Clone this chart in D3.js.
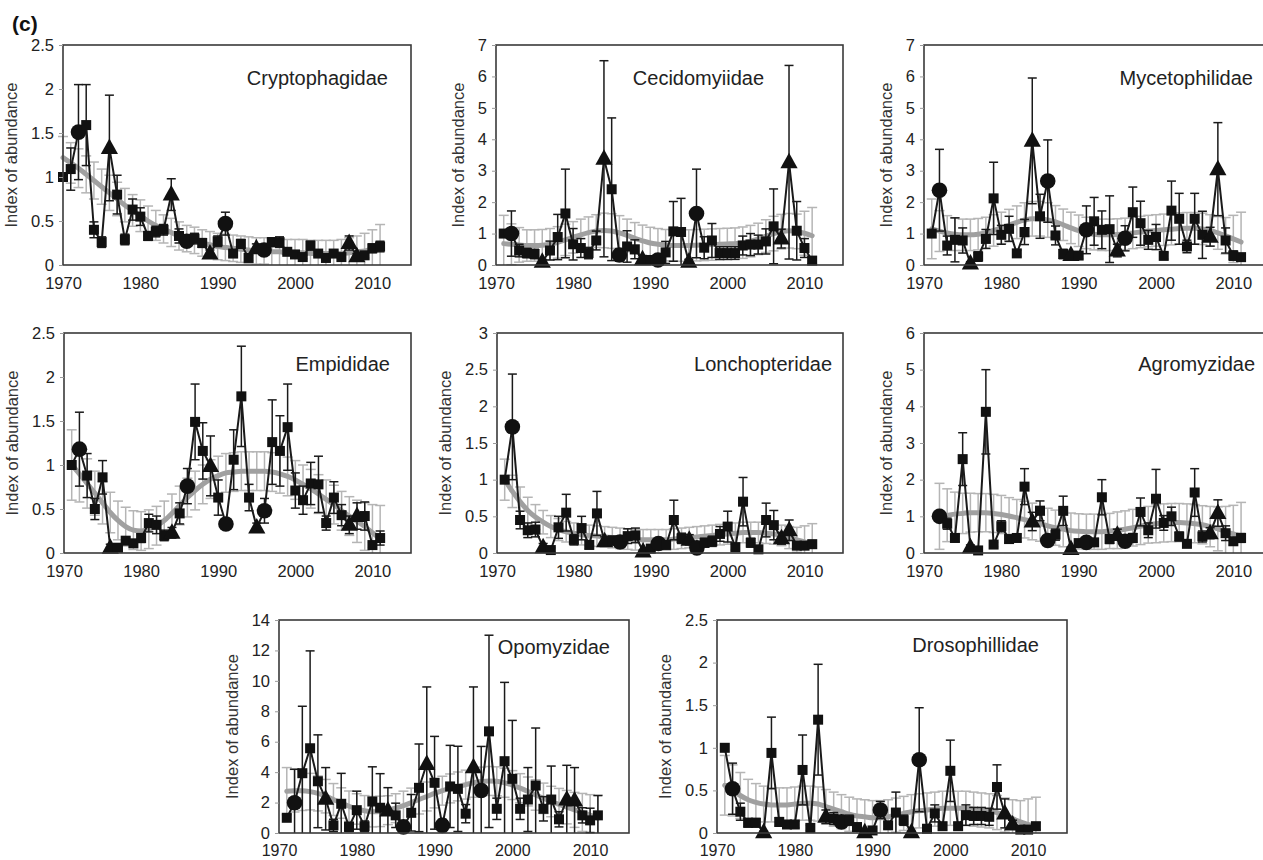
<!DOCTYPE html>
<html><head><meta charset="utf-8">
<script src="https://cdn.jsdelivr.net/npm/d3@7"></script>
<style>
body{margin:0;background:#fff;}
svg{display:block;}
text{font-family:"Liberation Sans",Arial,Helvetica,sans-serif;}
</style>
</head><body>
<svg id="chart" width="1263" height="860"></svg>
<script>
// ---------- shared data ----------
const circleYears = [1972, 1986, 1991, 1996];
const triangleYears = [1976, 1984, 1989, 1995, 2007, 2008];
const xTickYears = [1970, 1980, 1990, 2000, 2010];
const yAxisTitle = "Index of abundance";
const figureLabel = "(c)";

// ---------- Cryptophagidae (1970-2011) ----------
const crypStart = 1970;
const crypValues = [1.00,1.09,1.51,1.59,0.40,0.26,1.33,0.80,0.29,0.63, 0.55,0.33,0.38,0.40,0.80,0.33,0.27,0.30,0.25,0.13, 0.27,0.47,0.13,0.24,0.08,0.19,0.17,0.26,0.26,0.15, 0.12,0.09,0.22,0.13,0.08,0.13,0.09,0.25,0.10,0.11, 0.19,0.21];
const crypErr = [0,0.24,0.54,0.46,0.09,0.06,0.60,0.22,0.06,0.12, 0.10,0.05,0.06,0.06,0.18,0.08,0.05,0.06,0.05,0.04, 0.06,0.13,0.03,0.05,0.03,0.05,0.04,0.05,0.06,0.03, 0.03,0.02,0.05,0.03,0.02,0.03,0.02,0.08,0.03,0.03, 0.05,0.06];
const crypTrend = [1.22,1.16,1.10,1.03,0.96,0.89,0.82,0.75,0.68,0.62, 0.56,0.50,0.45,0.41,0.37,0.33,0.30,0.28,0.25,0.23, 0.21,0.20,0.19,0.18,0.17,0.16,0.16,0.15,0.15,0.14, 0.14,0.14,0.13,0.13,0.13,0.13,0.13,0.14,0.15,0.16, 0.18,0.20];
const crypCi = [0.24,0.23,0.22,0.21,0.21,0.20,0.20,0.19,0.19,0.18, 0.18,0.17,0.17,0.16,0.16,0.16,0.15,0.15,0.15,0.15, 0.15,0.15,0.15,0.15,0.15,0.15,0.15,0.15,0.15,0.15, 0.15,0.15,0.15,0.15,0.15,0.15,0.16,0.17,0.18,0.20, 0.22,0.26];

// ---------- Cecidomyiidae (1971-2011) ----------
const ceciStart = 1971;
const ceciValues = [1.00,1.00,0.46,0.38,0.35,0.10,0.46,0.89,1.64,0.66, 0.54,0.38,0.78,3.38,2.41,0.32,0.59,0.50,0.18,0.16, 0.16,0.40,1.07,1.05,0.10,1.64,0.55,0.78,0.38,0.38, 0.38,0.62,0.65,0.65,0.75,1.23,0.84,3.27,1.09,0.54, 0.14];
const ceciErr = [0,0.72,0.20,0.15,0.15,0.08,0.30,0.72,1.41,0.50, 0.30,0.18,0.30,3.12,2.27,0.20,0.50,0.30,0.12,0.10, 0.12,0.35,0.95,1.07,0.08,1.41,0.35,0.54,0.20,0.20, 0.20,0.30,0.35,0.30,0.40,1.19,0.30,3.08,0.93,0.30, 0.10];
const ceciTrend = [0.68,0.66,0.64,0.62,0.62,0.63,0.66,0.72,0.80,0.88, 0.96,1.03,1.08,1.10,1.08,1.02,0.94,0.85,0.77,0.70, 0.66,0.63,0.62,0.62,0.62,0.63,0.64,0.65,0.66,0.67, 0.68,0.71,0.76,0.83,0.92,1.00,1.06,1.09,1.07,1.01, 0.93];
const ceciCi = [0.90,0.65,0.55,0.50,0.50,0.50,0.50,0.50,0.50,0.50, 0.50,0.50,0.52,0.55,0.55,0.55,0.52,0.50,0.50,0.50, 0.50,0.50,0.50,0.50,0.50,0.50,0.50,0.50,0.50,0.50, 0.50,0.50,0.50,0.50,0.52,0.55,0.55,0.55,0.55,0.70, 0.90];

// ---------- Mycetophilidae (1971-2011) ----------
const myceStart = 1971;
const myceValues = [1.00,2.38,0.62,0.80,0.78,0.05,0.27,0.83,2.12,0.96, 1.15,0.37,1.05,3.95,1.55,2.67,0.94,0.35,0.32,0.30, 1.12,1.39,1.12,1.14,0.46,0.85,1.68,1.33,0.80,0.89, 0.29,1.73,1.47,0.59,1.47,0.96,0.90,3.05,0.78,0.30, 0.25];
const myceErr = [0,1.30,0.30,0.70,0.40,0.05,0.15,0.30,1.15,0.30, 0.40,0.10,0.40,2.00,0.70,1.31,0.30,0.15,0.10,0.10, 0.76,0.76,0.60,1.06,0.20,0.40,0.80,0.70,0.30,0.40, 0.10,0.94,0.81,0.20,0.81,0.75,0.30,1.48,0.40,0.15, 0.10];
const myceTrend = [1.15,1.08,1.02,0.98,0.96,0.96,0.98,1.02,1.10,1.18, 1.27,1.36,1.43,1.47,1.47,1.43,1.37,1.28,1.18,1.09, 1.02,0.98,0.96,0.96,0.97,0.99,1.02,1.05,1.08,1.10, 1.12,1.14,1.16,1.17,1.17,1.15,1.10,1.02,0.93,0.83, 0.73];
const myceCi = [0.95,0.65,0.55,0.52,0.50,0.50,0.50,0.50,0.50,0.50, 0.50,0.52,0.55,0.55,0.55,0.55,0.52,0.50,0.50,0.50, 0.50,0.50,0.50,0.50,0.50,0.50,0.50,0.50,0.50,0.50, 0.50,0.50,0.50,0.50,0.50,0.50,0.50,0.52,0.58,0.75, 0.95];

// ---------- Empididae (1971-2011) ----------
const empiStart = 1971;
const empiValues = [1.00,1.18,0.88,0.50,0.86,0.06,0.06,0.14,0.11,0.17, 0.34,0.32,0.20,0.23,0.45,0.76,1.49,1.16,0.99,0.63, 0.33,1.06,1.78,0.63,0.29,0.48,1.26,1.16,1.43,0.71, 0.60,0.79,0.78,0.34,0.63,0.43,0.32,0.42,0.42,0.09, 0.17];
const empiErr = [0,0.42,0.25,0.12,0.19,0.04,0.04,0.04,0.04,0.05, 0.10,0.10,0.06,0.06,0.12,0.20,0.43,0.32,0.34,0.20, 0.06,0.34,0.57,0.15,0.05,0.14,0.48,0.40,0.49,0.20, 0.16,0.24,0.32,0.08,0.18,0.12,0.10,0.15,0.16,0.03, 0.08];
const empiTrend = [1.00,0.90,0.79,0.68,0.57,0.46,0.37,0.30,0.26,0.25, 0.27,0.31,0.37,0.45,0.54,0.63,0.71,0.78,0.84,0.88, 0.91,0.92,0.93,0.93,0.93,0.93,0.92,0.90,0.87,0.83, 0.78,0.73,0.67,0.61,0.55,0.48,0.42,0.36,0.30,0.23, 0.16];
const empiCi = [0.40,0.32,0.28,0.25,0.24,0.23,0.22,0.22,0.22,0.22, 0.22,0.22,0.22,0.22,0.22,0.22,0.22,0.22,0.22,0.22, 0.22,0.22,0.22,0.22,0.22,0.22,0.22,0.22,0.22,0.22, 0.22,0.22,0.22,0.22,0.22,0.22,0.22,0.24,0.27,0.32, 0.38];

// ---------- Lonchopteridae (1971-2011) ----------
const loncStart = 1971;
const loncValues = [1.00,1.72,0.45,0.31,0.32,0.08,0.04,0.35,0.55,0.18, 0.34,0.11,0.54,0.16,0.17,0.15,0.23,0.24,0.02,0.06, 0.13,0.11,0.45,0.20,0.18,0.07,0.14,0.16,0.26,0.36, 0.08,0.70,0.14,0.05,0.45,0.38,0.20,0.31,0.10,0.10, 0.12];
const loncErr = [0,0.72,0.12,0.10,0.10,0.05,0.03,0.15,0.25,0.07, 0.16,0.05,0.30,0.06,0.06,0.06,0.10,0.10,0.02,0.03, 0.05,0.05,0.27,0.07,0.07,0.04,0.06,0.07,0.10,0.21, 0.04,0.33,0.06,0.03,0.23,0.20,0.08,0.14,0.04,0.04, 0.05];
const loncTrend = [1.00,0.84,0.70,0.58,0.49,0.42,0.36,0.32,0.29,0.27, 0.25,0.24,0.23,0.22,0.21,0.20,0.19,0.18,0.18,0.18, 0.18,0.18,0.19,0.20,0.21,0.22,0.23,0.24,0.25,0.26, 0.27,0.28,0.28,0.28,0.27,0.26,0.24,0.21,0.18,0.15, 0.12];
const loncCi = [0.28,0.22,0.20,0.18,0.17,0.16,0.15,0.15,0.14,0.14, 0.14,0.14,0.14,0.14,0.14,0.14,0.14,0.14,0.14,0.14, 0.14,0.14,0.14,0.14,0.14,0.14,0.14,0.14,0.14,0.14, 0.14,0.14,0.14,0.14,0.14,0.14,0.14,0.15,0.17,0.22, 0.28];

// ---------- Agromyzidae (1972-2011) ----------
const agroStart = 1972;
const agroValues = [1.00,0.80,0.41,2.56,0.16,0.07,3.85,0.23,0.73,0.38, 0.41,1.81,0.86,1.15,0.34,0.50,1.15,0.11,0.27,0.29, 0.29,1.52,0.38,0.50,0.32,0.41,1.12,0.62,1.48,0.82, 1.00,0.45,0.25,1.65,0.45,0.54,1.09,0.54,0.32,0.41];
const agroErr = [0,0.15,0.10,0.72,0.06,0.04,1.15,0.06,0.15,0.10, 0.10,0.49,0.25,0.27,0.10,0.15,0.40,0.05,0.08,0.08, 0.08,0.48,0.12,0.15,0.08,0.12,0.38,0.20,0.80,0.20, 0.25,0.12,0.08,0.65,0.15,0.15,0.36,0.20,0.10,0.12];
const agroTrend = [1.00,1.03,1.06,1.08,1.10,1.10,1.10,1.08,1.05,1.01, 0.96,0.91,0.86,0.80,0.74,0.69,0.65,0.61,0.59,0.58, 0.58,0.58,0.60,0.62,0.65,0.69,0.73,0.77,0.80,0.82, 0.83,0.83,0.82,0.80,0.77,0.72,0.66,0.59,0.52,0.46];
const agroCi = [0.90,0.72,0.60,0.55,0.53,0.52,0.52,0.52,0.52,0.50, 0.50,0.50,0.50,0.48,0.48,0.48,0.48,0.48,0.48,0.48, 0.48,0.48,0.48,0.50,0.50,0.50,0.50,0.50,0.52,0.52, 0.52,0.52,0.52,0.52,0.52,0.55,0.60,0.68,0.78,0.92];

// ---------- Opomyzidae (1971-2011) ----------
const opomStart = 1971;
const opomValues = [1.00,1.99,3.93,5.57,3.40,2.25,0.50,1.92,0.40,1.50, 0.44,2.07,1.66,1.48,1.16,0.40,1.33,2.97,4.54,3.30, 0.50,3.06,2.90,1.27,4.32,2.79,6.68,1.59,4.72,3.56, 1.59,2.20,3.12,1.59,2.20,0.90,2.20,2.14,1.16,0.83, 1.16];
const opomErr = [0,2.20,4.40,6.40,3.05,2.05,0.40,2.00,0.30,1.25, 0.35,2.28,2.24,1.50,0.80,0.30,1.20,2.88,5.06,3.05, 0.40,2.70,2.80,0.60,5.28,2.90,6.32,0.70,5.18,3.84, 0.70,2.10,3.78,0.80,2.20,0.50,2.25,2.16,0.50,0.80, 1.30];
const opomTrend = [2.75,2.78,2.78,2.72,2.60,2.42,2.20,1.97,1.76,1.58, 1.46,1.40,1.42,1.50,1.63,1.80,2.00,2.20,2.40,2.60, 2.78,2.93,3.06,3.18,3.30,3.38,3.42,3.40,3.30,3.15, 2.95,2.73,2.50,2.28,2.07,1.88,1.70,1.52,1.35,1.17, 0.98];
const opomCi = [1.55,1.40,1.30,1.20,1.15,1.10,1.05,1.00,1.00,1.00, 1.00,1.00,1.00,0.95,0.95,0.95,0.95,0.95,0.95,0.95, 0.95,0.95,0.95,0.95,0.95,0.95,0.95,0.95,0.95,0.95, 0.95,0.95,1.00,1.00,1.00,1.05,1.10,1.15,1.25,1.35, 1.50];

// ---------- Drosophillidae (1971-2011) ----------
const drosStart = 1971;
const drosValues = [1.00,0.52,0.25,0.12,0.12,0.01,0.94,0.13,0.10,0.10, 0.74,0.06,1.33,0.19,0.17,0.13,0.15,0.07,0.01,0.03, 0.27,0.09,0.24,0.15,0.01,0.86,0.05,0.23,0.08,0.73, 0.08,0.21,0.20,0.20,0.19,0.54,0.23,0.10,0.04,0.04, 0.08];
const drosErr = [0,0.30,0.10,0.05,0.05,0.01,0.42,0.05,0.04,0.04, 0.41,0.03,0.65,0.08,0.07,0.05,0.06,0.03,0.01,0.02, 0.10,0.04,0.24,0.06,0.01,0.61,0.02,0.10,0.04,0.36, 0.04,0.12,0.10,0.10,0.10,0.26,0.17,0.05,0.02,0.02, 0.04];
const drosTrend = [0.56,0.50,0.44,0.39,0.36,0.34,0.33,0.33,0.33,0.34, 0.35,0.35,0.34,0.31,0.28,0.25,0.22,0.20,0.19,0.18, 0.18,0.19,0.21,0.23,0.25,0.26,0.27,0.28,0.29,0.29, 0.29,0.29,0.28,0.27,0.26,0.24,0.21,0.17,0.13,0.10, 0.07];
const drosCi = [0.35,0.30,0.27,0.24,0.22,0.21,0.20,0.20,0.20,0.20, 0.20,0.20,0.20,0.20,0.20,0.20,0.20,0.20,0.20,0.20, 0.20,0.20,0.20,0.20,0.20,0.20,0.20,0.20,0.20,0.20, 0.20,0.20,0.20,0.20,0.20,0.20,0.20,0.22,0.25,0.30, 0.35];

// ---------- panel table built from the arrays ----------
const panels = [
  {name:"Cryptophagidae", start:crypStart, values:crypValues, err:crypErr, trend:crypTrend, ci:crypCi, yMax:2.5, yStep:0.5},
  {name:"Cecidomyiidae",  start:ceciStart, values:ceciValues, err:ceciErr, trend:ceciTrend, ci:ceciCi, yMax:7,   yStep:1},
  {name:"Mycetophilidae", start:myceStart, values:myceValues, err:myceErr, trend:myceTrend, ci:myceCi, yMax:7,   yStep:1},
  {name:"Empididae",      start:empiStart, values:empiValues, err:empiErr, trend:empiTrend, ci:empiCi, yMax:2.5, yStep:0.5},
  {name:"Lonchopteridae", start:loncStart, values:loncValues, err:loncErr, trend:loncTrend, ci:loncCi, yMax:3,   yStep:0.5},
  {name:"Agromyzidae",    start:agroStart, values:agroValues, err:agroErr, trend:agroTrend, ci:agroCi, yMax:6,   yStep:1},
  {name:"Opomyzidae",     start:opomStart, values:opomValues, err:opomErr, trend:opomTrend, ci:opomCi, yMax:14,  yStep:2},
  {name:"Drosophillidae", start:drosStart, values:drosValues, err:drosErr, trend:drosTrend, ci:drosCi, yMax:2.5, yStep:0.5}
];

// ---------- layout (positions / sizes only) ----------
const layout = [
  {left:63,  top:45,  width:348, height:220, titleEnd:388,  titleY:85,  xPad:12,   xFont:16.5},
  {left:496, top:45,  width:347, height:220, titleEnd:764,  titleY:85,  xPad:12,   xFont:16.5},
  {left:924, top:45,  width:348, height:220, titleEnd:1253, titleY:85,  xPad:12,   xFont:16.5},
  {left:64,  top:333, width:347, height:220, titleEnd:390,  titleY:371, xPad:12,   xFont:16.5},
  {left:497, top:333, width:346, height:220, titleEnd:832,  titleY:371, xPad:12,   xFont:16.5},
  {left:924, top:333, width:348, height:220, titleEnd:1255, titleY:371, xPad:12,   xFont:16.5},
  {left:279, top:620, width:350, height:213, titleEnd:610,  titleY:654, xPad:11.6, xFont:16},
  {left:717, top:620, width:350, height:213, titleEnd:1039, titleY:652, xPad:11.6, xFont:16}
];
const xDomain = [1970, 2015];

const svg = d3.select("#chart");
svg.append("rect").attr("width",1263).attr("height",860).attr("fill","#fff");

svg.append("text").attr("x",12).attr("y",31)
  .attr("font-size",21).attr("font-weight","bold").attr("fill","#111")
  .text(figureLabel);

const fmt = v => String(+v.toFixed(1));

panels.forEach((p, i) => {
  const L = layout[i];
  const g = svg.append("g");
  const x = d3.scaleLinear().domain(xDomain).range([L.left, L.left + L.width]);
  const y = d3.scaleLinear().domain([0, p.yMax]).range([L.top + L.height, L.top]);

  const pts = p.values.map((v, k) => ({year: p.start + k, v, e: p.err[k] || 0}));
  const tr = p.trend.map((t, k) => ({year: p.start + k, t, c: p.ci[k] || 0}));

  const cid = "clip" + i;
  svg.append("clipPath").attr("id", cid).append("rect")
    .attr("x", L.left - 10).attr("y", L.top - 2).attr("width", L.width + 20).attr("height", L.height + 4);
  const plot = g.append("g").attr("clip-path", `url(#${cid})`);

  // grey confidence bars
  const capG = 5, capB = 4.5;
  const ciG = plot.append("g").attr("stroke", "#b5b5b5").attr("stroke-width", 1.5).attr("fill", "none");
  tr.forEach(d => {
    const lo = Math.max(0, d.t - d.c), hi = d.t + d.c;
    const xx = x(d.year);
    ciG.append("line").attr("x1", xx).attr("x2", xx).attr("y1", y(lo)).attr("y2", y(hi));
    ciG.append("line").attr("x1", xx - capG).attr("x2", xx + capG).attr("y1", y(hi)).attr("y2", y(hi));
    if (d.t - d.c > 0) ciG.append("line").attr("x1", xx - capG).attr("x2", xx + capG).attr("y1", y(lo)).attr("y2", y(lo));
  });

  // grey trend line
  plot.append("path").datum(tr)
    .attr("fill", "none").attr("stroke", "#a0a0a0").attr("stroke-width", 5)
    .attr("stroke-linejoin", "round").attr("stroke-linecap", "round")
    .attr("d", d3.line().curve(d3.curveMonotoneX).x(d => x(d.year)).y(d => y(d.t)));

  // black error bars
  const eb = plot.append("g").attr("stroke", "#1a1a1a").attr("stroke-width", 1.5);
  pts.forEach(d => {
    if (!d.e) return;
    const lo = Math.max(0, d.v - d.e), hi = d.v + d.e;
    const xx = x(d.year);
    eb.append("line").attr("x1", xx).attr("x2", xx).attr("y1", y(lo)).attr("y2", y(hi));
    eb.append("line").attr("x1", xx - capB).attr("x2", xx + capB).attr("y1", y(hi)).attr("y2", y(hi));
    if (d.v - d.e > 0) eb.append("line").attr("x1", xx - capB).attr("x2", xx + capB).attr("y1", y(lo)).attr("y2", y(lo));
  });

  // black connecting line
  plot.append("path").datum(pts)
    .attr("fill", "none").attr("stroke", "#1a1a1a").attr("stroke-width", 2)
    .attr("stroke-linejoin", "miter")
    .attr("d", d3.line().x(d => x(d.year)).y(d => y(d.v)));

  // markers
  const mk = g.append("g").attr("fill", "#111");
  pts.forEach(d => {
    const xx = x(d.year), yy = y(d.v);
    if (circleYears.includes(d.year)) {
      mk.append("circle").attr("cx", xx).attr("cy", yy).attr("r", 7.8);
    } else if (triangleYears.includes(d.year)) {
      mk.append("path").attr("transform", `translate(${xx},${yy})`)
        .attr("d", "M0,-9.5L8.6,6L-8.6,6Z");
    } else {
      mk.append("rect").attr("x", xx - 5).attr("y", yy - 5).attr("width", 10).attr("height", 10);
    }
  });

  // frame
  g.append("rect").attr("x", L.left).attr("y", L.top).attr("width", L.width).attr("height", L.height)
    .attr("fill", "none").attr("stroke", "#3a3a3a").attr("stroke-width", 1.6);

  // axes
  const yTicks = d3.range(0, p.yMax + 1e-9, p.yStep);
  const yAx = g.append("g").attr("transform", `translate(${L.left},0)`)
    .call(d3.axisLeft(y).tickValues(yTicks).tickFormat(fmt).tickSize(4).tickPadding(5));
  yAx.select(".domain").remove();
  yAx.selectAll("line").attr("stroke", "#9a9a9a");
  yAx.selectAll("text").attr("font-size", 16.5).attr("fill", "#222")
    .attr("font-family", '"Liberation Sans",Arial,sans-serif');

  const xAx = g.append("g").attr("transform", `translate(0,${L.top + L.height})`)
    .call(d3.axisBottom(x).tickValues(xTickYears).tickFormat(d3.format("d")).tickSize(0).tickPadding(L.xPad));
  xAx.select(".domain").remove();
  xAx.selectAll("text").attr("font-size", L.xFont).attr("fill", "#222")
    .attr("font-family", '"Liberation Sans",Arial,sans-serif');

  // y-axis title
  const bb = yAx.node().getBBox();
  const tx = L.left + bb.x - 14;
  g.append("text").attr("transform", `translate(${tx},${L.top + L.height / 2}) rotate(-90)`)
    .attr("text-anchor", "middle").attr("font-size", 16.5).attr("fill", "#333")
    .text(yAxisTitle);

  // panel title
  g.append("text").attr("x", L.titleEnd).attr("y", L.titleY)
    .attr("text-anchor", "end").attr("font-size", 20).attr("fill", "#222")
    .text(p.name);
});
</script>
</body></html>
